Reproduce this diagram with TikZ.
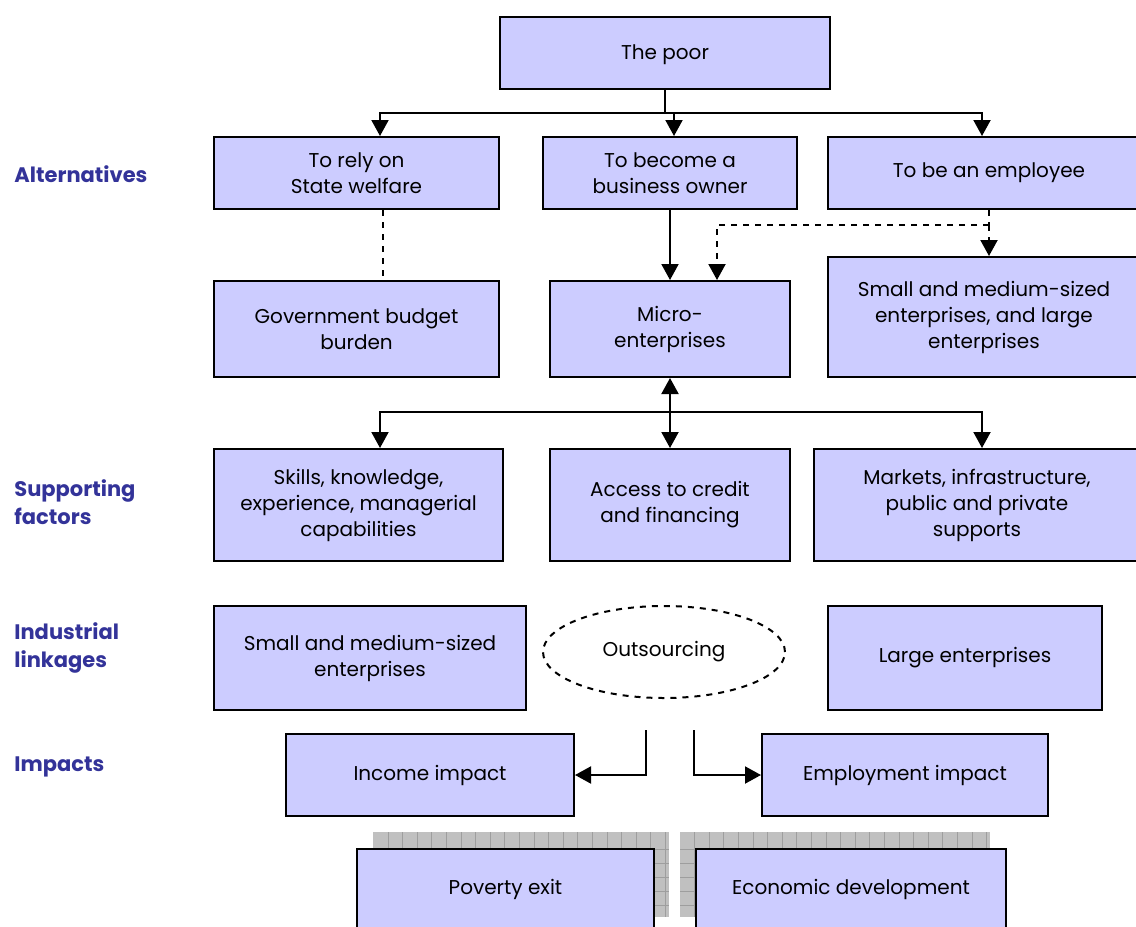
\documentclass[tikz,border=0pt]{standalone}
\usepackage{fontspec}
\setmainfont{Poppins}
\usetikzlibrary{arrows.meta,shapes.geometric}
\definecolor{boxfill}{HTML}{CCCCFF}
\definecolor{labelblue}{HTML}{333399}
\definecolor{shadowgrey}{HTML}{C0C0C0}
\definecolor{gridgrey}{HTML}{9E9E9E}
\tikzset{
  box/.style={draw, line width=1pt, fill=boxfill, align=center, inner sep=2pt,
    font=\fontsize{10}{13}\selectfont},
  rowlabel/.style={anchor=north west, align=left, inner sep=0pt, text=labelblue,
    font=\bfseries\fontsize{10.5}{14}\selectfont},
  link/.style={line width=1pt},
  tip/.style={-{Triangle[width=8.5pt,length=8pt]}},
}
\begin{document}
\begin{tikzpicture}[x=0.5pt,y=-0.5pt]
  \useasboundingbox (0,0) rectangle (1136,927);
  % row labels
  \node[rowlabel] (lalt) at (14,165) {Alternatives};
  \node[rowlabel] (lsup) at (14,479) {Supporting\\factors};
  \node[rowlabel] (lind) at (14,622) {Industrial\\linkages};
  \node[rowlabel] (limp) at (14,756) {Impacts};
  % boxes
  \node[box, minimum width=165pt, minimum height=36pt] (poor) at (665,53) {\rule[-2.5pt]{0pt}{12pt}The poor};
  \node[box, minimum width=142.5pt, minimum height=36pt] (welfare) at (356.5,173) {To rely on\\State welfare};
  \node[box, minimum width=127pt, minimum height=36pt] (owner) at (670,173) {To become a\\business owner};
  \node[box, minimum width=161pt, minimum height=36pt] (employee) at (989,173) {To be an employee};
  \node[box, minimum width=142.5pt, minimum height=48pt] (budget) at (356.5,329) {Government budget\\burden};
  \node[box, minimum width=120pt, minimum height=48pt] (micro) at (670,329) {Micro-\\enterprises};
  \node[box, minimum width=156pt, minimum height=60pt] (smelarge) at (984,317) {Small and medium-sized\\enterprises, and large\\enterprises};
  \node[box, minimum width=144.5pt, minimum height=56pt] (skills) at (358.5,505) {Skills, knowledge,\\experience, managerial\\capabilities};
  \node[box, minimum width=120pt, minimum height=56pt] (credit) at (670,505) {Access to credit\\and financing};
  \node[box, minimum width=163pt, minimum height=56pt] (markets) at (977,505) {Markets, infrastructure,\\public and private\\supports};
  \node[box, minimum width=156pt, minimum height=52pt] (smeind) at (370,658) {Small and medium-sized\\enterprises};
  \node[box, ellipse, fill=none, dashed, inner sep=0pt, minimum width=121pt, minimum height=46pt] (outsrc) at (664,652) {Outsourcing};
  \node[box, minimum width=137pt, minimum height=52pt] (largeent) at (965,658) {Large enterprises};
  \node[box, minimum width=144pt, minimum height=41pt] (income) at (430,775) {Income impact};
  \node[box, minimum width=143pt, minimum height=41pt] (employ) at (905,775) {Employment impact};
  % shadows behind the last row
  \fill[shadowgrey] (373,832) rectangle (669,917);
  \fill[shadowgrey] (680,832) rectangle (990,917);
  \foreach \x in {388,402.6,...,669} \draw[gridgrey, line width=0.5pt] (\x,832) -- (\x,917);
  \foreach \x in {694.6,709.2,...,990} \draw[gridgrey, line width=0.5pt] (\x,832) -- (\x,917);
  \foreach \y in {849,863,...,917} {
    \draw[gridgrey, line width=0.5pt] (373,\y) -- (669,\y);
    \draw[gridgrey, line width=0.5pt] (680,\y) -- (990,\y);
  }
  \node[box, minimum width=148.5pt, minimum height=40pt] (poverty) at (505.5,889) {Poverty exit};
  \node[box, minimum width=155pt, minimum height=40pt] (econ) at (851,889) {Economic development};
  % junctions
  \coordinate (split1) at (665,113);
  \coordinate (split2) at (989,225);
  \coordinate (split3) at (670,412);
  \coordinate (outL) at (646,730);
  \coordinate (outR) at (694,730);
  % connectors
  \draw[link] (poor) -- (split1);
  \draw[link,tip] (split1) -| ([xshift=11.75pt]welfare.north);
  \draw[link,tip] (split1) -| ([xshift=2pt]owner.north);
  \draw[link,tip] (split1) -| ([xshift=-3.5pt]employee.north);
  \draw[link,dashed] ([xshift=13pt]welfare.south) -- ([xshift=13pt]budget.north);
  \draw[link,tip] (owner) -- (micro);
  \draw[link,dashed] (employee) -- (split2);
  \draw[link,dashed,tip] (split2) -- (smelarge.north -| split2);
  \draw[link,dashed,tip] (split2) -| ([xshift=23.5pt]micro.north);
  \draw[link,{Triangle[width=8.5pt,length=8pt]}-{Triangle[width=8.5pt,length=8pt]}] (micro) -- (credit);
  \draw[link,tip] (split3) -| ([xshift=10.75pt]skills.north);
  \draw[link,tip] (split3) -| ([xshift=2.5pt]markets.north);
  \draw[link,tip] (outL) |- (income);
  \draw[link,tip] (outR) |- (employ);
\end{tikzpicture}
\end{document}
